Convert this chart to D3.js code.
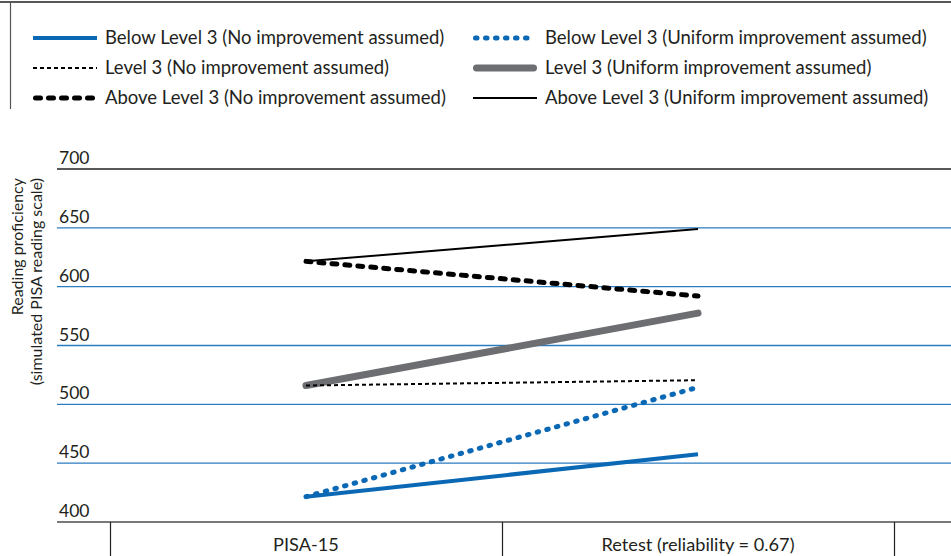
<!DOCTYPE html>
<html><head><meta charset="utf-8">
<script src="https://cdn.jsdelivr.net/npm/d3@7"></script>
<style>
html,body{margin:0;padding:0;background:#fff;}
svg{display:block;}
text{font-family:Lato,"Open Sans",sans-serif;fill:#231f20;}
</style></head>
<body>
<svg id="chart" width="951" height="556"></svg>
<script>
const categories = ["PISA-15", "Retest (reliability = 0.67)"];
const yTicks = [400, 450, 500, 550, 600, 650, 700];
const seriesNames = [
  "Below Level 3 (No improvement assumed)",
  "Below Level 3 (Uniform improvement assumed)",
  "Level 3 (No improvement assumed)",
  "Level 3 (Uniform improvement assumed)",
  "Above Level 3 (No improvement assumed)",
  "Above Level 3 (Uniform improvement assumed)"
];
const belowNo      = [421.5, 457.5];
const belowUniform = [421.5, 514.5];
const level3No     = [516.0, 520.5];
const level3Uniform= [516.0, 577.5];
const aboveNo      = [621.5, 592.0];
const aboveUniform = [621.5, 649.0];
const seriesValues = [belowNo, belowUniform, level3No, level3Uniform, aboveNo, aboveUniform];

const styles = [
  {color:"#0a68b4", width:4, dash:null, cap:"butt"},
  {color:"#0a68b4", width:5, dash:"1.5 8.5", cap:"round"},
  {color:"#000", width:2, dash:"4 3", cap:"butt"},
  {color:"#6d6e71", width:7, dash:null, cap:"round"},
  {color:"#000", width:5, dash:"5 8", cap:"round"},
  {color:"#000", width:2, dash:null, cap:"butt"}
];

const svg = d3.select("#chart");

// Legend frame
svg.append("line").attr("x1",0).attr("x2",951).attr("y1",2).attr("y2",2).attr("stroke","#231f20").attr("stroke-width",1.5);
svg.append("line").attr("x1",10.5).attr("x2",10.5).attr("y1",2).attr("y2",109).attr("stroke","#555").attr("stroke-width",1.2);

const legendCols = [33, 473];
const legendRows = [38, 68, 98];
const legendOrder = [[0,1],[2,3],[4,5]];
legendOrder.forEach((pair, r) => {
  pair.forEach((si, c) => {
    const x0 = legendCols[c];
    const st = styles[si];
    const g = svg.append("g");
    g.append("line").attr("x1", x0 + (st.cap==="round"? st.width/2:0)).attr("x2", x0 + 64 - (st.cap==="round"? st.width/2:0))
      .attr("y1", legendRows[r]).attr("y2", legendRows[r])
      .attr("stroke", st.color).attr("stroke-width", st.width)
      .attr("stroke-linecap", st.cap)
      .attr("stroke-dasharray", st.dash);
    g.append("text").attr("x", x0 + 72).attr("y", legendRows[r] + 6)
      .attr("font-size", 18.5).text(seriesNames[si]);
  });
});

// Scales
const y = d3.scaleLinear().domain([400, 700]).range([522, 169]);
const x = d3.scaleBand().domain(categories).range([110, 894]).padding(0);
const xc = d => x(d) + x.bandwidth()/2;

// Gridlines
yTicks.forEach(t => {
  const color = t === 700 ? "#231f20" : (t === 400 ? "#4d4d4f" : "#2a7bbf");
  svg.append("line").attr("x1", 57).attr("x2", 951).attr("y1", y(t)).attr("y2", y(t))
    .attr("stroke", color).attr("stroke-width", t === 700 ? 1.5 : 1.3);
  svg.append("text").attr("x", 59).attr("y", y(t) - 5).attr("font-size", 17.5).text(t);
});

// Bottom category dividers
const dividers = [x(categories[0]), x(categories[1]), x(categories[1]) + x.bandwidth()];
dividers.forEach(xx => {
  svg.append("line").attr("x1", xx+0.5).attr("x2", xx+0.5).attr("y1", 522).attr("y2", 556)
    .attr("stroke", "#231f20").attr("stroke-width", 1.2);
});
categories.forEach(c => {
  svg.append("text").attr("x", xc(c)).attr("y", 551).attr("text-anchor","middle")
    .attr("font-size", 18.2).text(c);
});

// Y title
const yt = svg.append("text").attr("transform","translate(0,178) rotate(-90)").attr("text-anchor","end").attr("font-size",16);
yt.append("tspan").attr("x",0).attr("y",23).text("Reading proficiency");
yt.append("tspan").attr("x",0).attr("y",42).text("(simulated PISA reading scale)");

// Lines
const line = d3.line().x((d,i) => xc(categories[i])).y(d => y(d));
const drawOrder = [3, 2, 5, 4, 0, 1];
drawOrder.forEach(si => {
  const st = styles[si];
  svg.append("path").datum(seriesValues[si]).attr("d", line)
    .attr("fill","none").attr("stroke", st.color).attr("stroke-width", st.width)
    .attr("stroke-linecap", st.cap).attr("stroke-dasharray", st.dash);
});
</script>
</body></html>
